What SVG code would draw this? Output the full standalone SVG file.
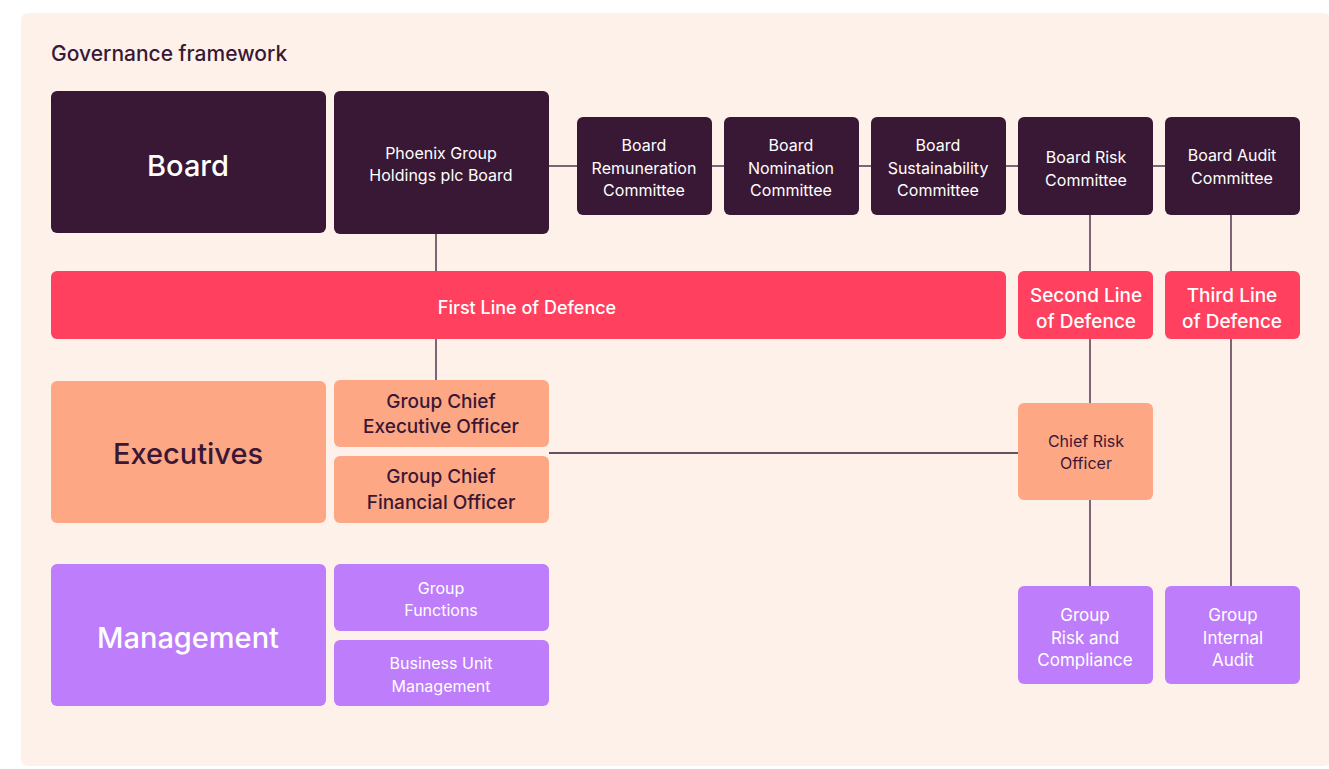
<svg xmlns="http://www.w3.org/2000/svg" width="1329" height="769" viewBox="0 0 1329 769">
  <style>
    text { font-family: Inter, "Noto Sans", "Liberation Sans", sans-serif; text-anchor: middle; }
    .dark { fill: #391836; }
    .red { fill: #ff405e; }
    .peach { fill: #fea785; }
    .purple { fill: #be7dfa; }
    .tw { fill: #ffffff; }
    .td { fill: #391836; }
    .big { font-size: 29px; font-weight: 500; }
    .mid { font-size: 19px; font-weight: 500; }
    .sm { font-size: 16px; font-weight: 400; }
    .conn line { stroke: #391836; stroke-width: 1.3; }
  </style>

  <!-- panel -->
  <rect x="0" y="0" width="1329" height="769" fill="#ffffff"/>
  <rect x="21" y="13" width="1310" height="753" rx="7" fill="#fdf1ea"/>
  <text x="51" y="61" style="text-anchor:start;font-size:21px;font-weight:500" class="td">Governance framework</text>

  <!-- connectors -->
  <g id="connectors" class="conn">
    <line x1="549" y1="166" x2="577" y2="166"/>
    <line x1="712" y1="166" x2="724" y2="166"/>
    <line x1="859" y1="166" x2="871" y2="166"/>
    <line x1="1006" y1="166" x2="1018" y2="166"/>
    <line x1="1153" y1="166" x2="1165" y2="166"/>
    <line x1="436" y1="234" x2="436" y2="271"/>
    <line x1="436" y1="339" x2="436" y2="380"/>
    <line x1="549" y1="453" x2="1018" y2="453"/>
    <line x1="1090" y1="215" x2="1090" y2="271"/>
    <line x1="1090" y1="339" x2="1090" y2="403"/>
    <line x1="1090" y1="500" x2="1090" y2="586"/>
    <line x1="1231" y1="215" x2="1231" y2="271"/>
    <line x1="1231" y1="339" x2="1231" y2="586"/>
  </g>

  <!-- board row -->
  <g id="board">
    <rect x="51" y="91" width="275" height="142" rx="6" class="dark"/>
    <text x="188" y="176" class="big tw">Board</text>
  </g>
  <g id="plc-board">
    <rect x="334" y="91" width="215" height="143" rx="6" class="dark"/>
    <text x="441" y="159" class="sm tw">Phoenix Group</text>
    <text x="441" y="181" class="sm tw">Holdings plc Board</text>
  </g>
  <g id="remuneration">
    <rect x="577" y="117" width="135" height="98" rx="6" class="dark"/>
    <text x="644" y="151" class="sm tw">Board</text>
    <text x="644" y="174" class="sm tw">Remuneration</text>
    <text x="644" y="196" class="sm tw">Committee</text>
  </g>
  <g id="nomination">
    <rect x="724" y="117" width="135" height="98" rx="6" class="dark"/>
    <text x="791" y="151" class="sm tw">Board</text>
    <text x="791" y="174" class="sm tw">Nomination</text>
    <text x="791" y="196" class="sm tw">Committee</text>
  </g>
  <g id="sustainability">
    <rect x="871" y="117" width="135" height="98" rx="6" class="dark"/>
    <text x="938" y="151" class="sm tw">Board</text>
    <text x="938" y="174" class="sm tw">Sustainability</text>
    <text x="938" y="196" class="sm tw">Committee</text>
  </g>
  <g id="risk-committee">
    <rect x="1018" y="117" width="135" height="98" rx="6" class="dark"/>
    <text x="1086" y="163" class="sm tw">Board Risk</text>
    <text x="1086" y="186" class="sm tw">Committee</text>
  </g>
  <g id="audit-committee">
    <rect x="1165" y="117" width="135" height="98" rx="6" class="dark"/>
    <text x="1232" y="161" class="sm tw">Board Audit</text>
    <text x="1232" y="184" class="sm tw">Committee</text>
  </g>

  <!-- lines of defence -->
  <g id="first-line">
    <rect x="51" y="271" width="955" height="68" rx="6" class="red"/>
    <text x="527" y="314" class="tw" style="font-size:18px;font-weight:500">First Line of Defence</text>
  </g>
  <g id="second-line">
    <rect x="1018" y="271" width="135" height="68" rx="6" class="red"/>
    <text x="1086" y="302" class="mid tw">Second Line</text>
    <text x="1086" y="328" class="mid tw">of Defence</text>
  </g>
  <g id="third-line">
    <rect x="1165" y="271" width="135" height="68" rx="6" class="red"/>
    <text x="1232" y="302" class="mid tw">Third Line</text>
    <text x="1232" y="328" class="mid tw">of Defence</text>
  </g>

  <!-- executives -->
  <g id="executives">
    <rect x="51" y="381" width="275" height="142" rx="6" class="peach"/>
    <text x="188" y="464" class="big td">Executives</text>
  </g>
  <g id="ceo">
    <rect x="334" y="380" width="215" height="67" rx="6" class="peach"/>
    <text x="441" y="408" class="mid td">Group Chief</text>
    <text x="441" y="433" class="mid td">Executive Officer</text>
  </g>
  <g id="cfo">
    <rect x="334" y="456" width="215" height="67" rx="6" class="peach"/>
    <text x="441" y="483" class="mid td">Group Chief</text>
    <text x="441" y="509" class="mid td">Financial Officer</text>
  </g>
  <g id="cro">
    <rect x="1018" y="403" width="135" height="97" rx="6" class="peach"/>
    <text x="1086" y="447" class="sm td">Chief Risk</text>
    <text x="1086" y="469" class="sm td">Officer</text>
  </g>

  <!-- management -->
  <g id="management">
    <rect x="51" y="564" width="275" height="142" rx="6" class="purple"/>
    <text x="188" y="648" class="big tw">Management</text>
  </g>
  <g id="group-functions">
    <rect x="334" y="564" width="215" height="67" rx="6" class="purple"/>
    <text x="441" y="594" class="sm tw">Group</text>
    <text x="441" y="616" class="sm tw">Functions</text>
  </g>
  <g id="bu-management">
    <rect x="334" y="640" width="215" height="66" rx="6" class="purple"/>
    <text x="441" y="669" class="sm tw">Business Unit</text>
    <text x="441" y="692" class="sm tw">Management</text>
  </g>
  <g id="risk-compliance">
    <rect x="1018" y="586" width="135" height="98" rx="6" class="purple"/>
    <text x="1085" y="621" class="sm tw" style="font-size:17px">Group</text>
    <text x="1085" y="644" class="sm tw" style="font-size:17px">Risk and</text>
    <text x="1085" y="666" class="sm tw" style="font-size:17px">Compliance</text>
  </g>
  <g id="internal-audit">
    <rect x="1165" y="586" width="135" height="98" rx="6" class="purple"/>
    <text x="1233" y="621" class="sm tw" style="font-size:17px">Group</text>
    <text x="1233" y="644" class="sm tw" style="font-size:17px">Internal</text>
    <text x="1233" y="666" class="sm tw" style="font-size:17px">Audit</text>
  </g>
</svg>
